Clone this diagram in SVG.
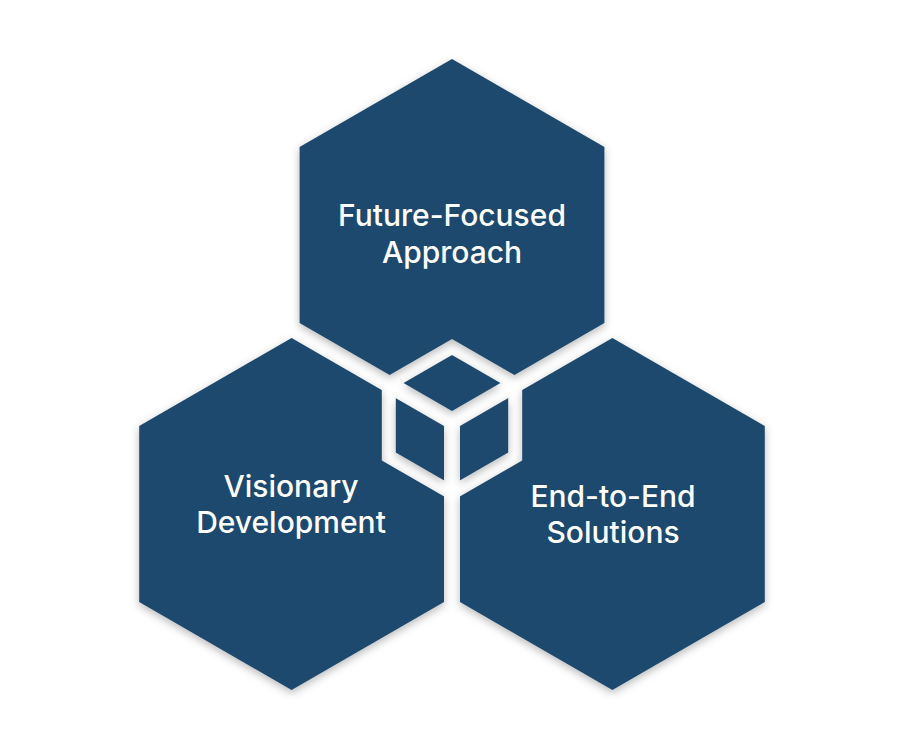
<svg xmlns="http://www.w3.org/2000/svg" width="904" height="748" viewBox="0 0 904 748">
<style>
.hex{fill:#1F486D}
.lbl{font-family:Inter,"Noto Sans","Liberation Sans",sans-serif;font-size:30px;font-weight:500;fill:#FFFFFF;text-anchor:middle}
</style>
<defs>
<filter id="shadow" x="-20%" y="-20%" width="140%" height="140%">
<feDropShadow dx="0" dy="3" stdDeviation="4" flood-color="#000000" flood-opacity="0.28"/>
</filter>
<mask id="cut" maskUnits="userSpaceOnUse" x="0" y="0" width="904" height="748">
<rect x="0" y="0" width="904" height="748" fill="#FFFFFF"/>
<polygon points="452,347 515.2,383.5 515.2,456.5 452,493 388.8,456.5 388.8,383.5" fill="none" stroke="#000000" stroke-width="14"/>
</mask>
</defs>
<rect x="0" y="0" width="904" height="748" fill="#FFFFFF"/>
<g id="connectors"></g>
<g id="node-future-focused">
<g filter="url(#shadow)"><polygon class="hex" mask="url(#cut)" points="452,59 604.4,147 604.4,323 452,411 299.6,323 299.6,147"/></g>
<text class="lbl" x="452" y="226">Future-Focused</text>
<text class="lbl" x="452" y="263">Approach</text>
</g>
<g id="node-visionary">
<g filter="url(#shadow)"><polygon class="hex" mask="url(#cut)" points="291.6,338 444,426 444,602 291.6,690 139.2,602 139.2,426"/></g>
<text class="lbl" x="291" y="497">Visionary</text>
<text class="lbl" x="291" y="533">Development</text>
</g>
<g id="node-end-to-end">
<g filter="url(#shadow)"><polygon class="hex" mask="url(#cut)" points="612.4,338 764.8,426 764.8,602 612.4,690 460,602 460,426"/></g>
<text class="lbl" x="613" y="507">End-to-End</text>
<text class="lbl" x="613" y="543">Solutions</text>
</g>
</svg>
